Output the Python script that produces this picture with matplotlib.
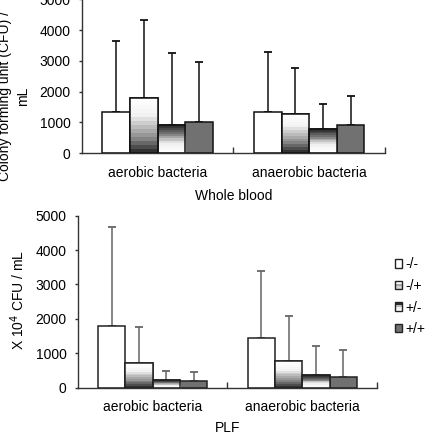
import numpy as np
import matplotlib
matplotlib.use("Agg")
import matplotlib.pyplot as plt
from matplotlib.patches import Rectangle
from matplotlib.legend_handler import HandlerBase
from matplotlib.colors import LinearSegmentedColormap

plt.rcParams['font.family'] = ['Liberation Sans', 'DejaVu Sans']
plt.rcParams['font.size'] = 10

categories = ["aerobic bacteria", "anaerobic bacteria"]
groups = ["-/-", "-/+", "+/-", "+/+"]

# whole blood: means and upper error (top of whisker)
wb_mean = {"aerobic bacteria": [1320, 1790, 920, 1010],
           "anaerobic bacteria": [1350, 1280, 790, 920]}
wb_top = {"aerobic bacteria": [3640, 4330, 3250, 2960],
          "anaerobic bacteria": [3280, 2760, 1600, 1860]}

# PLF
plf_mean = {"aerobic bacteria": [1780, 710, 210, 195],
            "anaerobic bacteria": [1430, 775, 365, 320]}
plf_top = {"aerobic bacteria": [4680, 1750, 485, 445],
           "anaerobic bacteria": [3390, 2070, 1200, 1095]}

yticks = [0, 1000, 2000, 3000, 4000, 5000]

# fills
grad_down = LinearSegmentedColormap.from_list(
    "gd", [(0, "#ffffff"), (0.3, "#f4f4f4"), (0.75, "#8a8a8a"), (1, "#333333")], N=14)
grad_up = LinearSegmentedColormap.from_list(
    "gu", [(0, "#222222"), (0.35, "#7a7a7a"), (0.65, "#eeeeee"), (1, "#ffffff")], N=14)
fills = ["white", grad_down, grad_up, "#717171"]
# legend swatch stripes, top to bottom
swatches = [["#ffffff"],
            ["#ffffff", "#a8a8a8", "#d6d6d6"],
            ["#2a2a2a", "#b8b8b8", "#f2f2f2", "#ffffff"],
            ["#717171"]]


class StripeHandler(HandlerBase):
    def create_artists(self, legend, orig_handle, xdescent, ydescent,
                       width, height, fontsize, trans):
        cols = orig_handle
        n = len(cols)
        arts = []
        for i, c in enumerate(cols):
            r = Rectangle((-xdescent, -ydescent + height * (n - 1 - i) / n),
                          width, height / n, facecolor=c, edgecolor="none",
                          transform=trans)
            arts.append(r)
        arts.append(Rectangle((-xdescent, -ydescent), width, height,
                              facecolor="none", edgecolor="#222222", lw=1,
                              transform=trans))
        return arts


def draw_panel(ax, means, tops, errcolor, edgecolor):
    w = 0.73 / 4
    x0 = np.arange(len(categories))
    for gi in range(4):
        xs = x0 - 0.365 + w * (gi + 0.5)
        vals = [means[c][gi] for c in categories]
        errs = [tops[c][gi] - means[c][gi] for c in categories]
        ax.errorbar(xs, vals, yerr=[np.zeros(len(vals)), errs], fmt="none",
                    ecolor=errcolor, elinewidth=1.1, capsize=3, capthick=1.3,
                    zorder=1)
        f = fills[gi]
        if isinstance(f, str):
            ax.bar(xs, vals, width=w, color=f, edgecolor=edgecolor,
                   linewidth=1.1, zorder=2)
        else:
            bars = ax.bar(xs, vals, width=w, color="white", edgecolor=edgecolor,
                          linewidth=1.1, zorder=2)
            for b in bars:
                grad = np.linspace(0, 1, 100).reshape(-1, 1)
                im = ax.imshow(grad, cmap=f, aspect="auto", interpolation="nearest",
                               extent=(b.get_x(), b.get_x() + b.get_width(),
                                       0, b.get_height()),
                               origin="upper", zorder=2.5)
                im.set_clip_path(b)
                ax.bar(b.get_x() + b.get_width() / 2, b.get_height(),
                       width=b.get_width(), color="none", edgecolor=edgecolor,
                       linewidth=1.1, zorder=3)
    ax.set_xlim(-0.5, 1.5)
    ax.set_ylim(0, 5000)
    ax.set_yticks(yticks)
    ax.set_xticks([0, 1])
    ax.set_xticklabels(categories)
    ax.set_xticks([0.5, 1.5], minor=True)
    ax.tick_params(axis="x", which="major", length=0, pad=9)
    ax.tick_params(axis="x", which="minor", direction="in", length=4, width=1,
                   color="#333333")
    ax.tick_params(axis="y", direction="out", length=2.2, width=1,
                   color="#333333", pad=6)
    for s in ["top", "right"]:
        ax.spines[s].set_visible(False)
    for s in ["left", "bottom"]:
        ax.spines[s].set_color("#333333")
        ax.spines[s].set_linewidth(1)


fig = plt.figure(figsize=(4.33, 4.42), dpi=100)

ax1 = fig.add_axes([0.1894, 0.6538, 0.6996, 0.3479])
draw_panel(ax1, wb_mean, wb_top, "#111111", "#111111")
ax1.set_xlabel("Whole blood", labelpad=7)
ax1.set_ylabel("Colony forming unit (CFU) /\nmL", linespacing=1.4)
ax1.yaxis.set_label_coords(-0.172, 0.37)

ax2 = fig.add_axes([0.180, 0.1229, 0.6907, 0.3891])
draw_panel(ax2, plf_mean, plf_top, "#666666", "#222222")
ax2.set_xlabel("PLF", labelpad=5)
ax2.set_ylabel("X 10$^4$ CFU / mL")
ax2.yaxis.set_label_coords(-0.169, 0.51)

handles = [tuple(s) for s in swatches]
fig.legend(handles, groups, loc="upper left", bbox_to_anchor=(0.912, 0.418),
           handler_map={tuple: StripeHandler()},
           frameon=False, fontsize=10, handlelength=0.53, handleheight=0.55,
           handletextpad=0.25, labelspacing=0.55, borderpad=0, borderaxespad=0)

fig.savefig("out.png", dpi=100)
